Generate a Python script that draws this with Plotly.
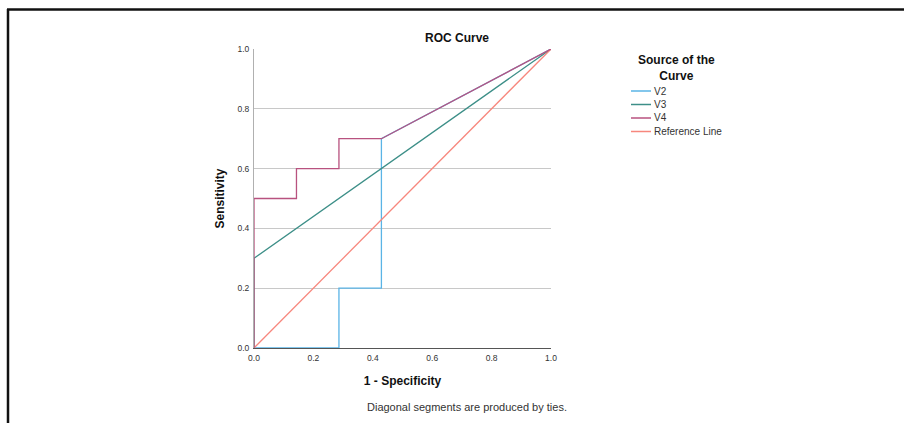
import plotly.graph_objects as go

# Data
v2_x = [0.0, 0.286, 0.286, 0.429, 0.429, 1.0]
v2_y = [0.0, 0.0, 0.2, 0.2, 0.7, 1.0]
v3_x = [0.0, 0.0, 1.0]
v3_y = [0.0, 0.3, 1.0]
v4_x = [0.0, 0.0, 0.143, 0.143, 0.286, 0.286, 0.429, 1.0]
v4_y = [0.0, 0.5, 0.5, 0.6, 0.6, 0.7, 0.7, 1.0]
ref_x = [0.0, 1.0]
ref_y = [0.0, 1.0]
series_names = ["V2", "V3", "V4", "Reference Line"]
series_colors = ["#5ab4e6", "#3d8f88", "#b8527f", "#f7877d"]
tick_vals = [0.0, 0.2, 0.4, 0.6, 0.8, 1.0]
tick_text = ["0.0", "0.2", "0.4", "0.6", "0.8", "1.0"]

FONT = "Liberation Sans, Arial, sans-serif"

fig = go.Figure()
series = [(v2_x, v2_y), (v3_x, v3_y), (ref_x, ref_y), (v4_x, v4_y)]
order = [0, 1, 3, 2]
for (xs, ys), idx in zip(series, order):
    fig.add_trace(go.Scatter(x=xs, y=ys, mode="lines", name=series_names[idx],
                             line=dict(color=series_colors[idx], width=1.3),
                             showlegend=False, hoverinfo="skip"))

fig.update_layout(
    width=904, height=423,
    margin=dict(l=254, r=353, t=49, b=75),
    paper_bgcolor="white", plot_bgcolor="white",
    font=dict(family=FONT, color="#222"),
)
fig.update_xaxes(range=[0, 1], tickvals=tick_vals, ticktext=tick_text,
                 showgrid=False, zeroline=False, showline=True, linecolor="#555", linewidth=1,
                 ticks="", tickfont=dict(size=8.5, color="#333"), ticklabelstandoff=2,
                 title=dict(text="<b>1 - Specificity</b>", font=dict(size=12, color="#111"), standoff=14))
fig.update_yaxes(range=[0, 1], tickvals=tick_vals, ticktext=tick_text,
                 showgrid=True, gridcolor="#c8c8c8", gridwidth=1, zeroline=False,
                 showline=True, linecolor="#b0b0b0", linewidth=1,
                 ticks="", tickfont=dict(size=8.5, color="#333"), ticklabelstandoff=2,
                 title=dict(text="<b>Sensitivity</b>", font=dict(size=12, color="#111"), standoff=10))

# convert pixel coords to paper coords
pw, ph = 904 - 254 - 353, 423 - 49 - 75
def px(x):
    return (x - 254) / pw
def py(y):
    return (423 - 75 - y) / ph

# Title
fig.add_annotation(text="<b>ROC Curve</b>", x=px(457), y=py(38), xref="paper", yref="paper",
                   xanchor="center", yanchor="middle", showarrow=False,
                   font=dict(size=12, color="#111"))

# Legend (custom)
fig.add_annotation(text="<b>Source of the<br>Curve</b>", x=px(676), y=py(68), xref="paper", yref="paper",
                   xanchor="center", yanchor="middle", showarrow=False,
                   font=dict(size=12, color="#111"))
leg_y = [91, 104.5, 118, 131.5]
for name, col, yy in zip(series_names, series_colors, leg_y):
    fig.add_shape(type="line", xref="paper", yref="paper", x0=px(631), x1=px(651), y0=py(yy), y1=py(yy),
                  line=dict(color=col, width=1.5))
    fig.add_annotation(text=name, x=px(652), y=py(yy), xref="paper", yref="paper",
                       xanchor="left", yanchor="middle", showarrow=False,
                       font=dict(size=10, color="#333"))

# Footnote
fig.add_annotation(text="Diagonal segments are produced by ties.", x=px(467), y=py(407),
                   xref="paper", yref="paper", xanchor="center", yanchor="middle",
                   showarrow=False, font=dict(size=11, color="#333"))

# Frame lines
fig.add_shape(type="line", xref="paper", yref="paper", x0=px(7), x1=px(904), y0=py(9.5), y1=py(9.5),
              line=dict(color="#111", width=2.5))
fig.add_shape(type="line", xref="paper", yref="paper", x0=px(8), x1=px(8), y0=py(9), y1=py(423),
              line=dict(color="#111", width=2.5))

fig.write_html("out.html", config={"displayModeBar": False},
               post_script="document.body.style.margin='0';document.body.style.overflow='hidden';")
